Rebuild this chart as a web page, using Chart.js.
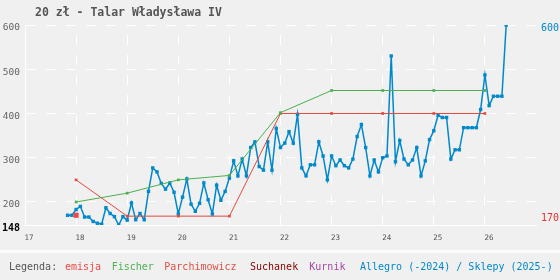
<!DOCTYPE html>
<html><head><meta charset="utf-8">
<script src="https://cdn.jsdelivr.net/npm/chart.js@4/dist/chart.umd.min.js"></script>
<style>
html,body{margin:0;padding:0;background:#f0f0f0;}
#wrap{position:relative;width:560px;height:280px;overflow:hidden;font-family:"DejaVu Sans Mono",monospace;}
canvas{position:absolute;left:0;top:0;}
#title{position:absolute;left:35px;top:5px;font-size:11.5px;font-weight:bold;color:#555;white-space:pre;line-height:14px;}
#band{position:absolute;left:0;top:250px;width:560px;height:3px;background:#fbfbfb;}
.lg{position:absolute;top:261px;font-size:10px;line-height:12px;white-space:pre;}
</style></head>
<body><div id="wrap"><canvas id="c" width="560" height="280"></canvas>
<div id="title">20 zł - Talar Władysława IV</div>
<div id="band"></div>
<div id="legend"></div>
</div>
<script>
// ---- data ----
const xTicks = [17,18,19,20,21,22,23,24,25,26];
const yTicks = [148,200,300,400,500,600];
const rightTicks = [170,600];

const emisjaYears = [18];
const emisjaValues = [170];

const fischerYears = [18,19,20,21,22,23,24,25,26];
const fischerValues = [200,220,250,260,402,452,452,452,452];

const parchYears = [18,19,20,21,22,23,24,25,26];
const parchValues = [250,168,168,168,400,400,400,400,400];

const suchanekYears = [];
const suchanekValues = [];
const kurnikYears = [];
const kurnikValues = [];

// Allegro / Sklepy: monthly, first month = Nov 2017
const allegroStartYear = 17, allegroStartMonth = 11;
const allegroValues = [
 170,170,183,190,166,166,156,152,150,187,
 174,167,148,167,159,198,160,174,160,224,
 277,268,242,229,243,222,173,211,252,195,
 179,197,243,205,173,238,204,224,254,293,
 259,297,259,323,336,280,272,336,272,366,
 323,333,359,333,398,277,259,284,284,336,
 304,250,304,282,295,282,277,297,348,375,
 323,259,295,268,300,304,530,291,339,297,
 284,295,323,259,293,341,361,396,391,391,
 297,318,318,368,368,368,368,409,487,418,
 439,439,439,600
];

const legendItems = [
 {t:'Legenda:', c:'#555', x:9},
 {t:'emisja', c:'#f04848', x:65},
 {t:'Fischer', c:'#4caf50', x:111.7},
 {t:'Parchimowicz', c:'#e05048', x:164.3},
 {t:'Suchanek', c:'#880000', x:250},
 {t:'Kurnik', c:'#a848a8', x:309.3},
 {t:'Allegro (-2024) / Sklepy (2025-)', c:'#0088cc', x:360}
];

// ---- build ----
const lg = document.getElementById('legend');
legendItems.forEach(it=>{const d=document.createElement('div');d.className='lg';d.textContent=it.t;d.style.color=it.c;d.style.left=it.x+'px';lg.appendChild(d);});

const pts=(xs,ys)=>xs.map((x,i)=>({x:x,y:ys[i]}));
const allegroPts = allegroValues.map((v,i)=>({x: allegroStartYear + (allegroStartMonth-1+i)/12, y:v}));

const FONT = '"DejaVu Sans Mono", monospace';
const BLUE='#0088cc', GREEN='#4caf50', RED='#e04a40';

new Chart(document.getElementById('c'), {
 type:'line',
 data:{datasets:[
  {label:'Allegro', data:allegroPts, borderColor:BLUE, backgroundColor:BLUE, borderWidth:1.5, pointStyle:'rect', pointRadius:2.4, pointBorderWidth:0, order:3},
  {label:'Suchanek', data:pts(suchanekYears,suchanekValues), borderColor:'#880000', backgroundColor:'#880000', borderWidth:1, pointStyle:'rect', pointRadius:1.8, pointBorderWidth:0, order:2},
  {label:'Kurnik', data:pts(kurnikYears,kurnikValues), borderColor:'#a848a8', backgroundColor:'#a848a8', borderWidth:1, pointStyle:'rect', pointRadius:1.8, pointBorderWidth:0, order:2},
  {label:'Fischer', data:pts(fischerYears,fischerValues), borderColor:GREEN, backgroundColor:GREEN, borderWidth:1, pointStyle:'rect', pointRadius:1.9, pointBorderWidth:0, order:1},
  {label:'Parchimowicz', data:pts(parchYears,parchValues), borderColor:RED, backgroundColor:RED, borderWidth:1, pointStyle:'rect', pointRadius:1.9, pointBorderWidth:0, order:1},
  {label:'emisja', data:pts(emisjaYears,emisjaValues), borderColor:'#f04848', backgroundColor:'#f04848', borderWidth:0, showLine:false, pointStyle:'rect', pointRadius:3.6, pointBorderWidth:0, order:0}
 ]},
 options:{
  responsive:false, animation:false, devicePixelRatio:1,
  layout:{padding:{top:25,left:0,right:0,bottom:0}},
  plugins:{legend:{display:false},title:{display:false},tooltip:{enabled:false}},
  elements:{line:{tension:0}},
  scales:{
   x:{type:'linear', min:17, max:27,
      afterFit(s){s.height=55;},
      afterBuildTicks(s){s.ticks=xTicks.map(v=>({value:v}));},
      grid:{color:'#ffffff', lineWidth:1, drawTicks:false},
      border:{display:true, color:'#ffffff', width:1, dash:[10,10], dashOffset:10},
      ticks:{font:{family:FONT,size:7.5}, color:'#555', padding:9, labelOffset:4, maxRotation:0, autoSkip:false, callback:v=>String(v)}
   },
   y:{type:'linear', position:'left', min:148, max:600,
      afterFit(s){s.width=25;},
      afterBuildTicks(s){s.ticks=yTicks.map(v=>({value:v}));},
      grid:{color:'#ffffff', lineWidth:1, drawTicks:false},
      border:{display:true, color:'#ffffff', width:1, dash:[10,10]},
      ticks:{padding:5, labelOffset:3, autoSkip:false,
        font:c=>({family:FONT,size:c.tick&&c.tick.value===148?10:9.5,weight:c.tick&&c.tick.value===148?'bold':'normal'}),
        color:c=>(c.tick&&c.tick.value===148)?'#000':'#666',
        callback:v=>String(v)}
   },
   y1:{type:'linear', position:'right', min:148, max:600,
      afterFit(s){s.width=24;},
      afterBuildTicks(s){s.ticks=rightTicks.map(v=>({value:v}));},
      grid:{display:false, drawTicks:false},
      border:{display:false},
      ticks:{padding:5, labelOffset:3, autoSkip:false, font:{family:FONT,size:10},
        color:c=>(c.tick&&c.tick.value===170)?'#f03030':BLUE,
        callback:v=>String(v)}
   }
  }
 }
});
</script>
</body></html>
